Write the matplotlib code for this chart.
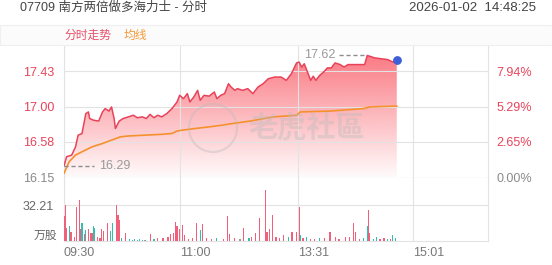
import matplotlib.pyplot as plt
import numpy as np
from matplotlib.patches import Polygon, Ellipse, Rectangle

plt.rcParams['font.family'] = ['Liberation Sans', 'Noto Sans CJK SC', 'DejaVu Sans']

# ---- data ----
title = "07709 南方两倍做多海力士 - 分时"
stamp = "2026-01-02  14:48:25"
prev_close = 16.15

# minute index (09:30 = 0, 13:00 = 151) and price
price_idx = [0, 2, 6, 9, 11, 14, 17, 19, 20, 23, 27, 30, 32, 35, 37, 39, 40, 43, 46, 50,
             54, 57, 61, 64, 67, 70, 73, 76, 80, 84, 88, 90, 93, 96, 98, 101, 104, 106, 109, 113,
             117, 119, 122, 125, 128, 130, 133, 135, 139, 143, 147, 151, 155, 159, 164, 169, 173, 177, 181, 183,
             185, 187, 190, 192, 194, 196, 199, 202, 205, 208, 211, 215, 218, 221, 228, 234, 236, 238, 242, 247,
             252, 256, 258, 259]
price = [16.29, 16.40, 16.42, 16.52, 16.66, 16.68, 16.92, 16.94, 16.86, 16.84, 16.83, 16.94, 16.98, 16.95, 17.00, 16.86, 16.74, 16.83, 16.86, 16.88,
         16.90, 16.87, 16.88, 16.86, 16.91, 16.87, 16.90, 16.88, 16.92, 16.98, 17.06, 17.14, 17.10, 17.16, 17.06, 17.12, 17.20, 17.08, 17.14, 17.13,
         17.18, 17.10, 17.14, 17.16, 17.28, 17.24, 17.20, 17.22, 17.20, 17.22, 17.16, 17.24, 17.28, 17.34, 17.36, 17.36, 17.32, 17.40, 17.53, 17.54,
         17.48, 17.52, 17.40, 17.32, 17.37, 17.32, 17.38, 17.42, 17.47, 17.47, 17.53, 17.51, 17.48, 17.51, 17.51, 17.51, 17.62, 17.61, 17.59, 17.58,
         17.57, 17.54, 17.58, 17.56]

avg_idx = [0, 4, 9, 14, 22, 30, 37, 44, 50, 63, 76, 84, 88, 92, 102, 113, 123, 131, 145, 163,
           181, 184, 207, 233, 238, 259]
avg_price = [16.20, 16.34, 16.42, 16.46, 16.52, 16.56, 16.60, 16.64, 16.65, 16.66, 16.67, 16.68, 16.71, 16.72, 16.74, 16.76, 16.78, 16.80, 16.83, 16.88,
             16.90, 16.94, 16.95, 16.98, 17.00, 17.01]

# volume (万股), direction 1 up / -1 down / 0 flat
vol_idx = [0, 1, 2, 4, 5, 6, 8, 10, 12, 13, 14, 16, 17, 19, 21, 22, 23, 24, 26, 28,
           29, 31, 34, 36, 38, 41, 42, 43, 45, 48, 51, 53, 55, 57, 59, 61, 63, 67, 70, 73,
           77, 81, 83, 85, 87, 88, 90, 92, 94, 97, 100, 103, 106, 108, 111, 115, 119, 124, 127, 129,
           133, 137, 140, 144, 146, 149, 152, 157, 158, 160, 162, 165, 168, 171, 175, 177, 178, 181, 183, 184,
           186, 189, 192, 195, 199, 203, 207, 211, 214, 219, 222, 225, 227, 230, 233, 236, 237, 238, 241, 243,
           246, 249, 252, 254, 256, 258]
vol = [22, 32, 12, 13, 8, 8, 4, 30, 37, 11, 16, 6, 10, 11, 7, 7, 13, 12, 4, 3,
       11, 9, 16, 9, 16, 32, 23, 19, 3, 7, 2, 1, 2, 1, 2, 1, 1, 6, 2, 3,
       3, 4, 6, 7, 17, 13, 11, 14, 5, 2, 3, 16, 10, 15, 3, 2, 3, 2, 22, 6,
       3, 2, 12, 3, 4, 7, 21, 46, 8, 11, 23, 4, 3, 5, 4, 8, 8, 8, 30, 5,
       3, 4, 2, 2, 3, 3, 8, 4, 2, 4, 4, 16, 8, 2, 3, 13, 28, 7, 2, 4,
       2, 3, 2, 2, 5, 3]
vol_dir = [1, 1, 1, -1, 1, 1, 1, 1, 1, 1, -1, 1, -1, 1, 1, 1, -1, -1, 1, 1,
           1, 1, 1, -1, -1, 1, 1, 1, -1, 1, -1, -1, -1, 0, -1, -1, 0, 1, -1, 1,
           1, 1, 1, 1, 1, 1, 1, 1, 1, 1, 1, 1, -1, 1, 1, 1, -1, 1, 1, 1,
           1, 0, 1, -1, 1, 1, 1, 1, 1, 1, 1, 1, 1, 1, -1, 1, 1, 1, 1, -1,
           1, -1, 1, 1, -1, 1, 1, 1, 1, 1, 1, 1, 1, 1, -1, -1, 1, 1, -1, -1,
           1, 1, -1, 1, -1, -1]

pct_ticks = [0.0, 2.65, 5.29, 7.94]
time_idx = [0, 90, 182, 272]
time_labels = ["09:30", "11:00", "13:31", "15:01"]
vol_tick = 32.21

# ---- layout ----
W, H = 552, 265
RED = "#e8435a"
ORANGE = "#f5912d"
GRID = "#e3e3e3"
GRAY = "#8a8a8a"


def box(x0, y0, x1, y1):
    return [x0 / W, 1 - y1 / H, (x1 - x0) / W, (y1 - y0) / H]


fig = plt.figure(figsize=(W / 100, H / 100), dpi=100)

# header band
fig.patches.append(Rectangle((0, 1 - 45 / H), 1, 20 / H, transform=fig.transFigure,
                             facecolor="#fbfbfb", edgecolor="#efefef", lw=0.8, zorder=0))
fig.text(20 / W, 1 - 8 / H, title, fontsize=9, color="#444444", va="center", ha="left")
fig.text(536 / W, 1 - 8 / H, stamp, fontsize=9.5, color="#444444", va="center", ha="right")
fig.text(64 / W, 1 - 35 / H, "分时走势", fontsize=8.5, color="#e8506a", va="center", ha="left",
         family=["Noto Sans CJK SC"])
fig.text(124 / W, 1 - 35 / H, "均线", fontsize=8.5, color="#f39a3a", va="center", ha="left",
         family=["Noto Sans CJK SC"])

ylo = prev_close
yhi = prev_close + 132.5 * 0.43 / 35.7
tick_prices = [prev_close * (1 + p / 100) for p in pct_ticks]

ax = fig.add_axes(box(64, 45, 488, 177.5))
ax.set_xlim(0, 330)
ax.set_ylim(ylo, yhi)

# gradient fill under price line
grad = np.zeros((256, 1, 4))
grad[..., 0] = 0.98
grad[..., 1] = 0.36
grad[..., 2] = 0.40
grad[..., 3] = np.linspace(0.03, 0.88, 256).reshape(-1, 1)
verts = list(zip(price_idx, price)) + [(price_idx[-1], ylo), (price_idx[0], ylo)]
clip = Polygon(verts, closed=True, facecolor="none", edgecolor="none")
ax.add_patch(clip)
im = ax.imshow(grad, extent=[0, 330, ylo, yhi], origin="lower", aspect="auto", zorder=1)
im.set_clip_path(clip)

ax.plot(price_idx, price, color=RED, lw=1.1, zorder=3)
ax.plot(avg_idx, avg_price, color=ORANGE, lw=1.2, zorder=3)
ax.scatter([price_idx[-1]], [price[-1]], s=28, color="#3f5fd8", zorder=5)

# max / min markers
imax = int(np.argmax(price))
imin = int(np.argmin(price))
ax.plot([price_idx[imax] - 22, price_idx[imax]], [price[imax], price[imax]], ls=(0, (3, 2)), color="#8c8c8c", lw=1, zorder=4)
ax.text(price_idx[imax] - 25, price[imax], f"{price[imax]:.2f}", ha="right", va="center", fontsize=9, color="#999999")
ax.plot([price_idx[imin], price_idx[imin] + 23], [price[imin], price[imin]], ls=(0, (3, 2)), color="#8c8c8c", lw=1, zorder=4)
ax.text(price_idx[imin] + 27, price[imin], f"{price[imin]:.2f}", ha="left", va="center", fontsize=9, color="#999999")

ax.set_yticks(tick_prices)
ax.set_yticklabels([f"{p:.2f}" for p in tick_prices])
ax.set_xticks(time_idx)
ax.tick_params(axis="x", labelbottom=False, length=0)
ax.tick_params(axis="y", length=0, pad=7, labelsize=9)
for lab, c in zip(ax.get_yticklabels(), [GRAY, RED, RED, RED]):
    lab.set_color(c)
ax.grid(True, color=GRID, lw=0.8)
for s in ax.spines.values():
    s.set_color(GRID)

ax2 = ax.twinx()
ax2.set_ylim(ylo, yhi)
ax2.set_yticks(tick_prices)
ax2.set_yticklabels([f"{p:.2f}%" for p in pct_ticks])
ax2.tick_params(axis="y", length=0, pad=6, labelsize=9)
for lab, c in zip(ax2.get_yticklabels(), [GRAY, RED, RED, RED]):
    lab.set_color(c)
for s in ax2.spines.values():
    s.set_visible(False)

# watermark
fig.patches.append(Ellipse((213 / W, 1 - 128 / H), 48 / W, 48 / H, transform=fig.transFigure,
                           facecolor="none", edgecolor="#bbbbbb", lw=1.5, alpha=0.4, zorder=6))
fig.text(307 / W, 1 - 128 / H, "老虎社區", fontsize=21, color="#bbbbbb", alpha=0.4,
         ha="center", va="center", family=["Noto Sans CJK TC"], fontweight="bold", zorder=6)

# volume panel
axv = fig.add_axes(box(64, 177.5, 488, 241))
colors = {1: "#f0607a", -1: "#33bfae", 0: "#9a9a9a"}
axv.bar(vol_idx, vol, width=0.9, color=[colors[d] for d in vol_dir], zorder=3)
axv.set_xlim(0, 330)
axv.set_ylim(0, vol_tick * (241 - 177.5) / 36)
axv.set_yticks([vol_tick])
axv.set_yticklabels([f"{vol_tick:.2f}"])
axv.tick_params(axis="y", length=0, pad=7, labelsize=9, labelcolor="#666666")
axv.set_xticks(time_idx)
axv.set_xticklabels(time_labels)
axv.tick_params(axis="x", length=0, pad=4, labelsize=9, labelcolor="#777777")
for lab in axv.get_xticklabels():
    lab.set_horizontalalignment("left")
axv.grid(True, color=GRID, lw=0.8, zorder=0)
for s in axv.spines.values():
    s.set_color(GRID)
axv.spines["top"].set_visible(False)
fig.text(57 / W, 1 - 235 / H, "万股", fontsize=8.5, color="#666666", ha="right", va="center",
         family=["Noto Sans CJK SC"])

fig.savefig("out.png", dpi=100)
